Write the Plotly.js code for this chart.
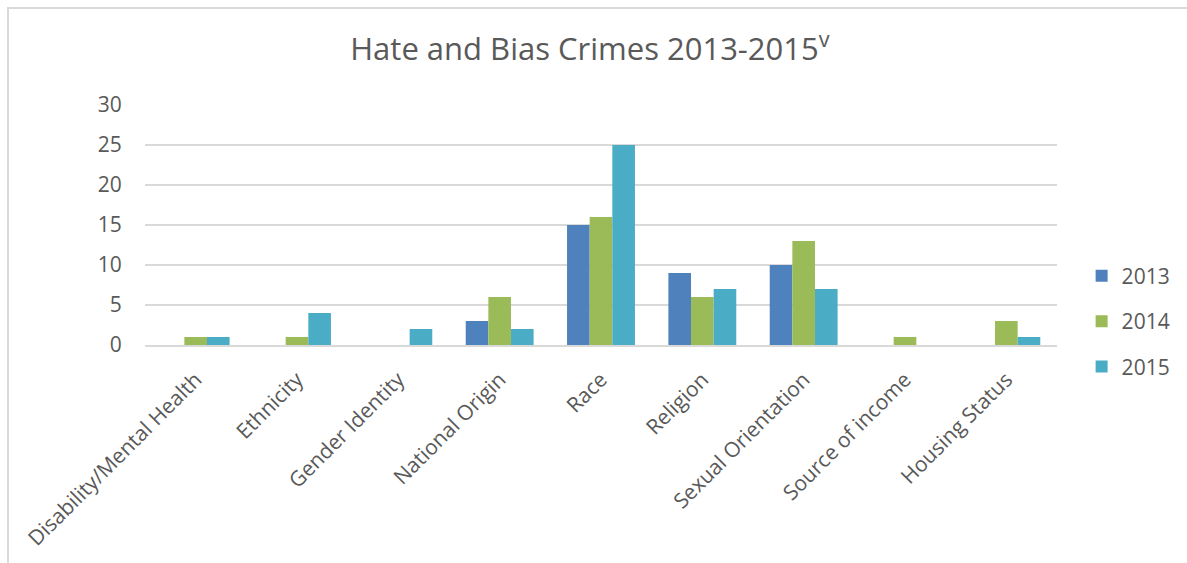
<!DOCTYPE html>
<html>
<head>
<meta charset="utf-8">
<script src="https://cdn.plot.ly/plotly-3.0.1.min.js"></script>
<style>
  html, body { margin: 0; padding: 0; background: #fff; }
  #wrap { position: relative; width: 1187px; height: 563px; overflow: hidden; }
  #frame { position: absolute; left: 7px; top: 7px; width: 1200px; height: 600px;
           border-left: 2px solid #d9d9d9; border-top: 2px solid #d9d9d9; box-sizing: border-box; }
  #chart { position: absolute; left: 0; top: 0; width: 1187px; height: 563px; }
</style>
</head>
<body>
<div id="wrap">
  <div id="frame"></div>
  <div id="chart"></div>
</div>
<script>
const categories = ["Disability/Mental Health", "Ethnicity", "Gender Identity", "National Origin",
                    "Race", "Religion", "Sexual Orientation", "Source of income", "Housing Status"];
const years = ["2013", "2014", "2015"];
const values2013 = [0, 0, 0, 3, 15, 9, 10, 0, 0];
const values2014 = [1, 1, 0, 6, 16, 6, 13, 1, 3];
const values2015 = [1, 4, 2, 2, 25, 7, 7, 0, 1];
const seriesColors = ["#4F81BD", "#9BBB59", "#4BACC6"];

const seriesValues = [values2013, values2014, values2015];
const font = "Open Sans, Lato, sans-serif";
const textColor = "#595959";

const traces = years.map((y, i) => ({
  type: "bar",
  name: y,
  x: categories,
  y: seriesValues[i],
  legendgroup: y,
  marker: { color: seriesColors[i], line: { width: 0 } },
  hoverinfo: "x+y+name"
}));

const layout = {
  width: 1187, height: 563,
  paper_bgcolor: "rgba(0,0,0,0)",
  plot_bgcolor: "rgba(0,0,0,0)",
  margin: { l: 145, r: 130, t: 105, b: 218, pad: 0, autoexpand: false },
  title: {
    text: "Hate and Bias Crimes 2013-2015<sup>v</sup>",
    font: { family: font, size: 31, color: textColor },
    x: 0.497, xanchor: "center", y: 0.912, yanchor: "middle"
  },
  barmode: "group",
  bargap: 0.33,
  bargroupgap: 0,
  showlegend: true,
  legend: {
    x: 1.027, xanchor: "left", y: 0.372, yanchor: "top",
    font: { family: font, size: 21, color: textColor },
    tracegroupgap: 15,
    itemwidth: 30
  },
  xaxis: {
    type: "category",
    tickangle: -45,
    tickfont: { family: font, size: 21, color: textColor },
    showgrid: false,
    showline: true, linecolor: "#d9d9d9", linewidth: 2,
    ticks: "outside", ticklen: 12, tickcolor: "rgba(0,0,0,0)",
    fixedrange: true
  },
  yaxis: {
    range: [0, 30],
    dtick: 5,
    tick0: 0,
    tickfont: { family: font, size: 21, color: textColor },
    showgrid: true, gridcolor: "#d9d9d9", gridwidth: 2,
    zeroline: false,
    showline: false,
    ticks: "outside", ticklen: 18, tickcolor: "rgba(0,0,0,0)",
    fixedrange: true
  }
};

Plotly.newPlot("chart", traces, layout, { displayModeBar: false });
</script>
</body>
</html>
